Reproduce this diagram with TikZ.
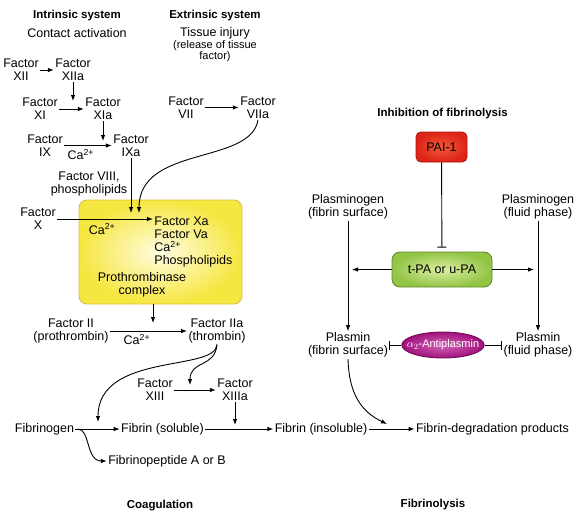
\documentclass[tikz,border=0pt]{standalone}
\usepackage{fontspec}
\setmainfont{Liberation Sans}
\usetikzlibrary{arrows.meta,shapes.geometric}

\definecolor{cplxout}{HTML}{F6E640}
\definecolor{cplxin}{HTML}{FFFDE2}
\definecolor{cplxline}{HTML}{DDBE48}
\definecolor{paiout}{HTML}{DE2418}
\definecolor{paiin}{HTML}{F25A3A}
\definecolor{pailine}{HTML}{B0180E}
\definecolor{tpaout}{HTML}{92C446}
\definecolor{tpain}{HTML}{DDEFA4}
\definecolor{tpaline}{HTML}{5E8C2A}
\definecolor{antiout}{HTML}{A0127C}
\definecolor{antiin}{HTML}{D464B6}
\definecolor{antiline}{HTML}{760A5A}

\begin{document}
\begin{tikzpicture}[x=1pt, y=-1pt, line width=0.9pt, >={Latex[length=6pt,width=4.5pt]},
  every node/.style={font=\fontsize{12.5}{13}\selectfont, align=center, inner sep=1pt},
  head/.style={font=\bfseries\fontsize{11.5}{13}\selectfont},
  small/.style={font=\fontsize{11}{11}\selectfont},
  inhib/.style={-{Bar[width=9pt]}},
  cplxbox/.style={rectangle, rounded corners=8pt, draw=cplxline, shade, inner color=cplxin, outer color=cplxout},
  paibox/.style={rectangle, rounded corners=5pt, draw=pailine, shade, inner color=paiin, outer color=paiout},
  tpabox/.style={rectangle, rounded corners=8pt, draw=tpaline, shade, inner color=tpain, outer color=tpaout},
  antibox/.style={ellipse, draw=antiline, shade, inner color=antiin, outer color=antiout, text=white,
    font=\fontsize{11}{12}\selectfont, inner xsep=-7pt, inner ysep=0pt, minimum height=26pt}]
\useasboundingbox (0,0) rectangle (584,523);

\node[head] (intr) at (77,15.5) {Intrinsic system};
\node (contact) at (77,33) {Contact activation};
\node[head] (extr) at (215,15.5) {Extrinsic system};
\node (tissue) at (215,33) {Tissue injury};
\node[small] (release) at (215,51.5) {(release of tissue\\factor)};

\node[cplxbox, minimum width=163pt, minimum height=104pt] (cplx) at (160.5,252) {};

\node (XII) at (21,70) {Factor\\XII};
\node (XIIa) at (73,70) {Factor\\XIIa};
\node (XI) at (40,109) {Factor\\XI};
\node (XIa) at (103,109) {Factor\\XIa};
\node (IX) at (45,145.5) {Factor\\IX};
\node (IXa) at (131,145.5) {Factor\\IXa};
\node (VII) at (186,107.5) {Factor\\VII};
\node (VIIa) at (258,107.5) {Factor\\VIIa};
\node (VIII) at (89,184) {Factor VIII,\\phospholipids};
\node (X) at (38,219) {Factor\\X};
\node (ca1) at (102,229) {Ca\textsuperscript{2+}};
\node[anchor=north west, align=left] (Xa) at (153,215.5) {Factor Xa\\Factor Va\\Ca\textsuperscript{2+}\\Phospholipids};
\node (pbc) at (142,284.5) {Prothrombinase\\complex};
\node (II) at (71,331) {Factor II\\(prothrombin)};
\node (IIa) at (217,331) {Factor IIa\\(thrombin)};
\node (XIII) at (155,390) {Factor\\XIII};
\node (XIIIa) at (235,390) {Factor\\XIIIa};
\node (fbg) at (44.5,429) {Fibrinogen};
\node (fsol) at (162.5,429) {Fibrin (soluble)};
\node (fins) at (321,429) {Fibrin (insoluble)};
\node (fdp) at (492.5,429) {Fibrin-degradation products};
\node (fp) at (167,461) {Fibrinopeptide A or B};
\node[head] (coag) at (160,506) {Coagulation};

\coordinate (t5) at (73,101);
\coordinate (t6) at (103,141);
\coordinate (t7) at (139,213);
\coordinate (t4) at (153,323);
\coordinate (t1) at (98,422);
\coordinate (t2) at (190,385);
\coordinate (t3) at (235,425);
\coordinate (b1) at (78,429);

\draw[->] (XII) -- (XIIa);
\draw[->] (XIIa) -- (t5);
\draw[->] (XI) -- (XIa);
\draw[->] (XIa) -- (t6);
\draw[->] (IX) -- (IXa) node[pos=0.35, below=2pt] {Ca\textsuperscript{2+}};
\draw[->] (VII) -- (VIIa);
\draw[->] (IXa.south) -- (IXa.south |- t7);
\draw[->] (VIIa.south) .. controls (251,165) and (139,145) .. (t7);
\draw[->] (X) -- (X -| Xa.west);
\draw[->] (Xa.west |- cplx.south) -- (t4);
\draw[->] (II) -- (IIa) node[pos=0.35, below=2pt] {Ca\textsuperscript{2+}};
\draw[->] (IIa.south) .. controls (216,372) and (98,352) .. (t1);
\draw[->] (IIa.south) .. controls (215,368) and (190,360) .. (t2);
\draw[->] (XIII) -- (XIIIa);
\draw[->] (XIIIa) -- (t3);
\draw[->] (fbg) -- (fsol);
\draw[->] (b1) .. controls (90,429) and (86,461) .. (fp.west);
\draw[->] (fsol) -- (fins);
\draw[->] (fins) -- (fdp);

\node[head] (inhibtitle) at (442.5,113.5) {Inhibition of fibrinolysis};
\node[paibox, minimum width=51pt, minimum height=30pt] (pai) at (441.5,147) {PAI-1};
\node[tpabox, minimum width=100pt, minimum height=35pt] (tpa) at (442,269.5) {t-PA or u-PA};
\node (plgF) at (348,207) {Plasminogen\\(fibrin surface)};
\node (plgL) at (538,207) {Plasminogen\\(fluid phase)};
\node (plmF) at (348,345) {Plasmin\\(fibrin surface)};
\node (plmL) at (538,345) {Plasmin\\(fluid phase)};
\node[antibox] (anti) at (443,345) {$\alpha_2$-Antiplasmin};
\node[head] (fibl) at (433,505) {Fibrinolysis};

\coordinate (t8) at (387,424);

\draw[inhib, shorten >=4pt] (pai) -- (tpa);
\draw[->] (plgF) -- (plmF);
\draw[->] (plgL) -- (plmL);
\draw[->, shorten >=4pt] (tpa.west) -- (tpa.west -| plgF);
\draw[->, shorten >=4pt] (tpa.east) -- (tpa.east -| plgL);
\draw[inhib] (anti) -- (plmF);
\draw[inhib] (anti) -- (plmL);
\draw[->] (plmF.south) .. controls (349,395) and (362,412) .. (t8);
\end{tikzpicture}
\end{document}
